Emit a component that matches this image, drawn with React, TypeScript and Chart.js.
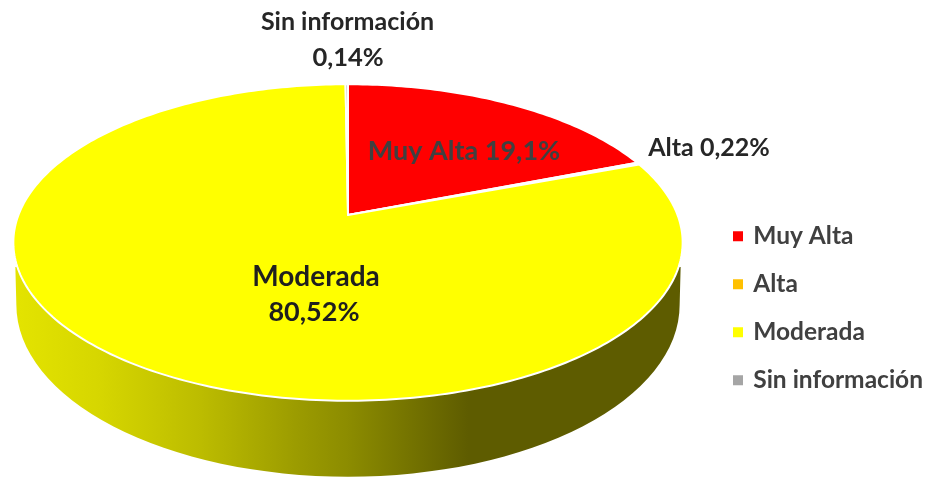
import React, { useEffect, useRef } from "react";
import { Chart, registerables } from "chart.js";

Chart.register(...registerables);

const categories = ["Muy Alta", "Alta", "Moderada", "Sin información"];
const shares = [19.1, 0.22, 80.52, 0.14];
const sliceColors = ["#ff0000", "#ffc000", "#ffff00", "#a5a5a5"];

// Perspective of the tilted disc
const STRETCH_X = 1.421;
const STRETCH_Y = 0.672;
const APEX_SHIFT = -0.1735;
const FONT_FAMILY = 'Lato, "Open Sans", sans-serif';

const fmt = (v: number) => String(v).replace(".", ",") + "%";

// Map a chart.js arc angle on to the tilted, perspective-projected disc
function project(angle: number, cx: number, cy: number, rx: number, ry: number) {
  const u = Math.cos(angle);
  const v = Math.sin(angle);
  const d = 1 + APEX_SHIFT * v;
  return {
    x: cx + (rx * u * Math.sqrt(1 - APEX_SHIFT * APEX_SHIFT)) / d,
    y: cy + (ry * (v + APEX_SHIFT)) / d,
  };
}

function drawSlice(this: any, ctx: CanvasRenderingContext2D) {
  const { x, y, outerRadius, startAngle, endAngle, options } = this;
  const rx = outerRadius * STRETCH_X;
  const ry = outerRadius * STRETCH_Y;
  const apex = { x, y: y + ry * APEX_SHIFT };
  const steps = Math.max(2, Math.ceil(((endAngle - startAngle) / (2 * Math.PI)) * 360));
  ctx.save();
  ctx.beginPath();
  ctx.moveTo(apex.x, apex.y);
  for (let i = 0; i <= steps; i++) {
    const p = project(startAngle + ((endAngle - startAngle) * i) / steps, x, y, rx, ry);
    ctx.lineTo(p.x, p.y);
  }
  ctx.closePath();
  ctx.fillStyle = options.backgroundColor;
  ctx.fill();
  ctx.lineJoin = "round";
  ctx.lineWidth = options.borderWidth;
  ctx.strokeStyle = options.borderColor;
  ctx.stroke();
  ctx.restore();
}

const disc3d = {
  id: "disc3d",
  afterLayout(chart: any) {
    const legend = chart.legend;
    legend.left = 711.5;
    legend.top = 200.5;
    legend.right = 930;
    legend.bottom = 479;
    legend.width = 218.5;
    legend.height = 278.5;
  },
  afterDatasetsUpdate(chart: any) {
    chart.getDatasetMeta(0).data.forEach((el: any) => {
      el.draw = drawSlice;
    });
  },
  beforeDatasetsDraw(chart: any) {
    const el = chart.getDatasetMeta(0).data[0];
    if (!el) return;
    const ctx: CanvasRenderingContext2D = chart.ctx;
    const rx = el.outerRadius * STRETCH_X;
    const ry = el.outerRadius * STRETCH_Y;
    const g = ctx.createLinearGradient(el.x - rx, 0, el.x + rx, 0);
    g.addColorStop(0, "#e4e400");
    g.addColorStop(0.13, "#d6d600");
    g.addColorStop(0.28, "#bcbc00");
    g.addColorStop(0.43, "#9a9a00");
    g.addColorStop(0.5, "#8c8c00");
    g.addColorStop(0.68, "#5e5c00");
    g.addColorStop(1, "#5e5c00");
    ctx.save();
    ctx.beginPath();
    ctx.moveTo(el.x - rx + 2, el.y + ry * 0.155);
    ctx.lineTo(el.x - rx * 0.991, el.y + ry * 0.395);
    ctx.ellipse(el.x, el.y + ry * 0.395, rx * 0.991, ry * 1.085, 0, Math.PI, 0, true);
    ctx.lineTo(el.x + rx - 2, el.y + ry * 0.155);
    ctx.closePath();
    ctx.fillStyle = g;
    ctx.fill();
    ctx.restore();
  },
  afterDraw(chart: any) {
    const ctx: CanvasRenderingContext2D = chart.ctx;
    const put = (text: string, x: number, y: number, size: number, color: string) => {
      ctx.font = `700 ${size}px ${FONT_FAMILY}`;
      ctx.fillStyle = color;
      ctx.fillText(text, x, y);
    };
    ctx.save();
    ctx.textAlign = "center";
    ctx.textBaseline = "middle";
    put(categories[3], 347.5, 22, 25, "#262626");
    put(fmt(shares[3]), 348, 58, 25.5, "#262626");
    put(`${categories[0]} ${fmt(shares[0])}`, 464, 151, 27, "#404040");
    put(`${categories[1]} ${fmt(shares[1])}`, 709, 148, 25, "#262626");
    put(categories[2], 316, 277, 28, "#1f1f1f");
    put(fmt(shares[2]), 314, 312, 27, "#1f1f1f");
    ctx.restore();
  },
};

export default function App() {
  const ref = useRef<HTMLCanvasElement>(null);
  useEffect(() => {
    if (!ref.current) return;
    const chart = new Chart(ref.current, {
      type: "pie",
      plugins: [disc3d],
      data: {
        labels: categories,
        datasets: [
          {
            data: shares,
            backgroundColor: sliceColors,
            borderColor: "#ffffff",
            borderWidth: 2,
          },
        ],
      },
      options: {
        responsive: false,
        animation: false,
        layout: { padding: { left: 0, right: 234, top: 6, bottom: 0 } },
        plugins: {
          tooltip: { enabled: false },
          legend: {
            position: "chartArea",
            align: "start",
            labels: {
              usePointStyle: true,
              boxWidth: 6,
              boxHeight: 10,
              padding: 23.5,
              color: "#404040",
              font: { family: FONT_FAMILY, size: 24.5, weight: "700" },
              generateLabels: () =>
                categories.map((text, i) => ({
                  text,
                  fillStyle: sliceColors[i],
                  strokeStyle: "rgba(0,0,0,0)",
                  lineWidth: 0,
                  pointStyle: "rect",
                  hidden: false,
                  index: i,
                  fontColor: "#404040",
                })),
            },
          },
        },
      },
    } as any);
    return () => chart.destroy();
  }, []);
  return (
    <div style={{ position: "absolute", left: 0, top: 0, width: 930, height: 479 }}>
      <canvas ref={ref} width={930} height={479} style={{ display: "block" }} />
    </div>
  );
}
